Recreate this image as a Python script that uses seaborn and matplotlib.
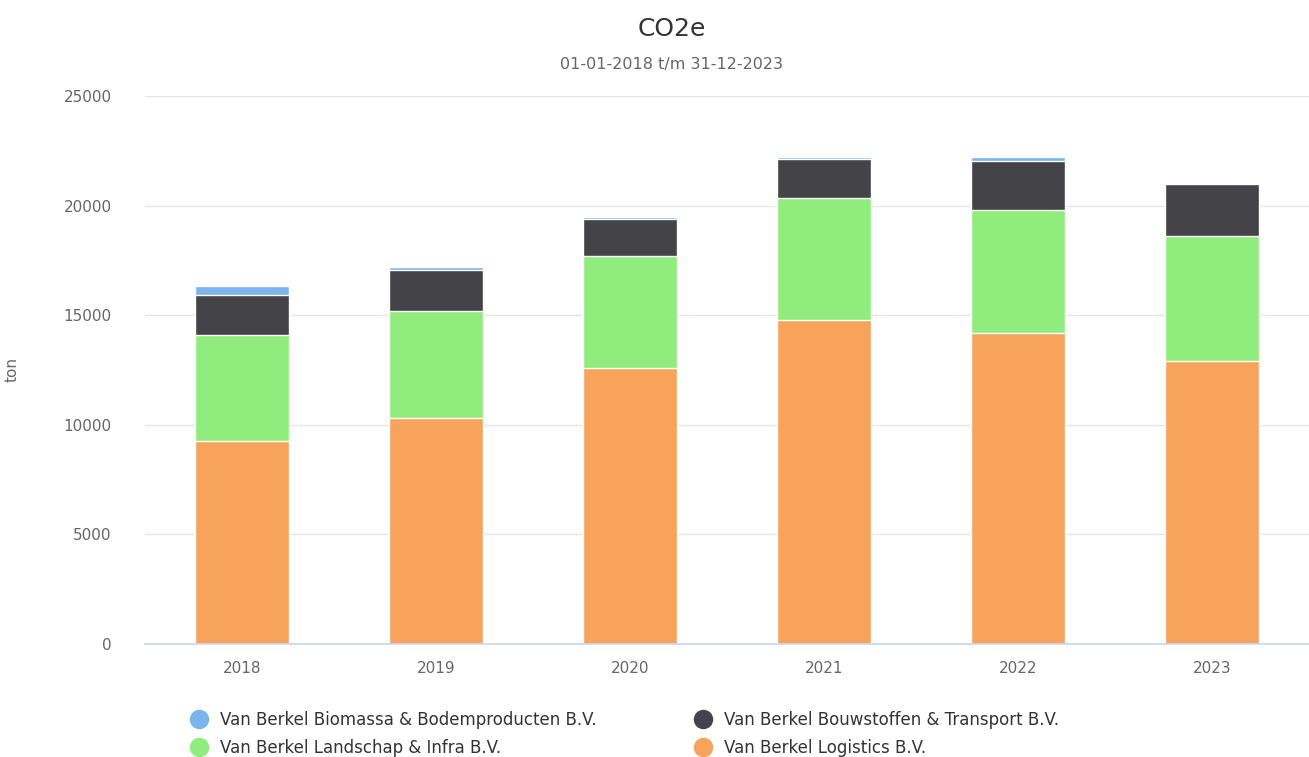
import numpy as np
import pandas as pd
import seaborn as sns
import matplotlib
matplotlib.use("Agg")
import matplotlib.pyplot as plt
from matplotlib.lines import Line2D

# data (ton CO2e)
years = ["2018", "2019", "2020", "2021", "2022", "2023"]
logistics = [9270, 10300, 12600, 14790, 14210, 12900]
landschap = [4840, 4900, 5090, 5575, 5590, 5730]
bouwstoffen = [1820, 1840, 1690, 1750, 2250, 2360]
biomassa = [400, 150, 100, 105, 180, 0]

names = ["Van Berkel Biomassa & Bodemproducten B.V.",
         "Van Berkel Bouwstoffen & Transport B.V.",
         "Van Berkel Landschap & Infra B.V.",
         "Van Berkel Logistics B.V."]
colors = ["#7cb5ec", "#434348", "#90ed7d", "#f7a35c"]

sns.set_theme(style="white")
plt.rcParams['font.family'] = ['DejaVu Sans']

df = pd.DataFrame({"year": years, "logistics": logistics, "landschap": landschap,
                   "bouwstoffen": bouwstoffen, "biomassa": biomassa})
# cumulative tops, drawn from the tallest down so lower parts cover upper ones
df["c_log"] = df["logistics"]
df["c_land"] = df["c_log"] + df["landschap"]
df["c_bouw"] = df["c_land"] + df["bouwstoffen"]
df["c_bio"] = df["c_bouw"] + df["biomassa"]

fig = plt.figure(figsize=(13.09, 7.57), dpi=100)
ax = fig.add_axes([145 / 1309, 1 - 644 / 757, 1 - 145 / 1309, (644 - 96) / 757])

for col, c in zip(["c_bio", "c_bouw", "c_land", "c_log"], colors):
    sns.barplot(data=df, x="year", y=col, color=c, width=0.48, ax=ax,
                edgecolor="white", linewidth=1, saturation=1)

ax.set_ylim(0, 25000)
ax.set_xlim(-0.5, 5.5)
ax.set_yticks([0, 5000, 10000, 15000, 20000, 25000])
ax.yaxis.grid(True, color="#e6e6e6", linewidth=1)
ax.set_axisbelow(True)
for s in ["top", "right", "left"]:
    ax.spines[s].set_visible(False)
ax.spines["bottom"].set_color("#ccd6eb")
ax.tick_params(axis="both", length=0, labelsize=11, labelcolor="#666666")
ax.tick_params(axis="y", pad=24)
ax.tick_params(axis="x", pad=12)
ax.set_xlabel("")
ax.set_ylabel("ton", fontsize=11, color="#666666")
ax.yaxis.set_label_coords((20 - 145) / 1164, 0.5)

fig.text(0.513, 0.962, "CO2e", ha="center", va="center", fontsize=18, color="#333333")
fig.text(0.513, 0.915, "01-01-2018 t/m 31-12-2023", ha="center", va="center",
         fontsize=11.5, color="#666666")

def handle(c):
    return Line2D([], [], marker="o", linestyle="", markersize=13,
                  markerfacecolor=c, markeredgecolor=c)

common = dict(loc="upper left", frameon=False, fontsize=12, labelspacing=0.6,
              handletextpad=0.3, labelcolor="#333333", borderaxespad=0, borderpad=0)
fig.legend([handle(colors[0]), handle(colors[2])], [names[0], names[2]],
           bbox_to_anchor=(182 / 1309, 1 - 711 / 757), **common)
fig.legend([handle(colors[1]), handle(colors[3])], [names[1], names[3]],
           bbox_to_anchor=(686 / 1309, 1 - 711 / 757), **common)

fig.savefig("out.png", dpi=100)
